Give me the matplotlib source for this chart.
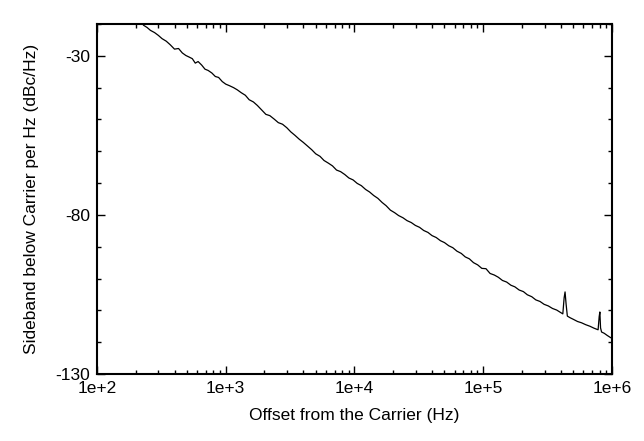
import matplotlib
matplotlib.use("Agg")
import matplotlib.pyplot as plt
from matplotlib.ticker import FixedLocator, LogLocator, MultipleLocator, FuncFormatter, NullFormatter

plt.rcParams['font.family'] = ['Liberation Sans', 'DejaVu Sans']
plt.rcParams['axes.unicode_minus'] = False

# offset from carrier (Hz)
freq = [230, 245, 260, 280, 300, 320, 345, 370, 400, 430, 460, 490, 520, 550, 580, 610,
        650, 690, 730, 780, 830, 880, 940, 1000, 1070, 1150, 1230, 1320, 1420, 1520, 1640,
        1760, 1900, 2050, 2200, 2380, 2560, 2760, 2980, 3200, 3450, 3720, 4000, 4300, 4650,
        5000, 5400, 5800, 6250, 6750, 7250, 7800, 8400, 9050, 9750, 10500, 11300, 12200,
        13100, 14100, 15200, 16400, 17600, 19000, 20500, 22000, 23800, 25600, 27600, 29700,
        32000, 34500, 37200, 40000, 43100, 46500, 50000, 54000, 58000, 62500, 67500, 72500,
        78000, 84000, 90500, 97500, 105000, 113000, 122000, 131000, 141000, 152000, 164000,
        176000, 190000, 205000, 220000, 238000, 256000, 276000, 297000, 320000, 345000,
        372000, 400000, 415000, 425000, 432000, 440000, 450000, 472000, 500000, 540000,
        580000, 625000, 675000, 725000, 780000, 795000, 805000, 815000, 830000, 870000,
        920000, 970000, 1000000]

# sideband level (dBc/Hz)
level = [-20.4, -21.1, -22.0, -22.7, -23.6, -24.6, -25.4, -26.5, -27.9, -27.7, -29.1, -29.9,
         -30.4, -30.9, -32.3, -31.8, -32.9, -34.2, -34.6, -35.4, -36.5, -36.8, -38.1, -38.9,
         -39.4, -40.0, -40.7, -41.6, -42.4, -43.8, -44.5, -45.6, -47.0, -48.4, -48.8, -49.9,
         -51.0, -51.5, -52.6, -53.9, -55.0, -56.2, -57.2, -58.3, -59.5, -60.8, -61.6, -62.9,
         -63.7, -64.6, -65.9, -66.4, -67.3, -68.4, -69.0, -70.1, -70.8, -72.0, -72.8, -73.9,
         -74.8, -76.1, -77.1, -78.5, -79.3, -80.2, -80.9, -81.8, -82.4, -83.3, -83.9, -84.9,
         -85.5, -86.5, -87.1, -88.1, -88.7, -89.7, -90.3, -91.4, -92.1, -93.2, -93.8, -95.0,
         -95.7, -96.8, -96.9, -98.4, -98.9, -99.6, -100.6, -101.1, -102.1, -102.6, -103.6,
         -104.1, -105.1, -105.7, -106.7, -107.2, -108.1, -108.6, -109.4, -109.9, -110.7,
         -111.1, -106.0, -104.2, -108.0, -111.8, -112.3, -112.8, -113.5, -113.9, -114.5,
         -115.0, -115.6, -116.1, -112.0, -110.5, -115.5, -116.8, -117.2, -117.9, -118.5,
         -118.8]

xtick_vals = [1e2, 1e3, 1e4, 1e5, 1e6]
xtick_labels = ["1e+2", "1e+3", "1e+4", "1e+5", "1e+6"]
ytick_vals = [-130, -80, -30]

fig = plt.figure(figsize=(6.44, 4.41), dpi=100)
ax = fig.add_axes([0.1506, 0.1519, 0.7997, 0.7937])

ax.plot(freq, level, color='black', linewidth=0.9)

ax.set_xscale('log')
ax.set_xlim(1e2, 1e6)
ax.set_ylim(-130, -20)

ax.xaxis.set_major_locator(FixedLocator(xtick_vals))
ax.xaxis.set_major_formatter(FuncFormatter(lambda v, p: xtick_labels[xtick_vals.index(v)] if v in xtick_vals else ""))
ax.xaxis.set_minor_locator(LogLocator(base=10, subs=range(2, 10)))
ax.xaxis.set_minor_formatter(NullFormatter())
ax.yaxis.set_major_locator(FixedLocator(ytick_vals))
ax.yaxis.set_minor_locator(MultipleLocator(10))

ax.tick_params(which='both', direction='in', top=True, right=True, labelsize=12.5, width=1, pad=5)
ax.tick_params(which='major', length=6)
ax.tick_params(which='minor', length=3)
for s in ax.spines.values():
    s.set_linewidth(1.5)

ax.set_xlabel("Offset from the Carrier (Hz)", fontsize=12.5, labelpad=9)
ax.set_ylabel("Sideband below Carrier per Hz (dBc/Hz)", fontsize=12.5, labelpad=12)

fig.savefig("out.png", dpi=100)
